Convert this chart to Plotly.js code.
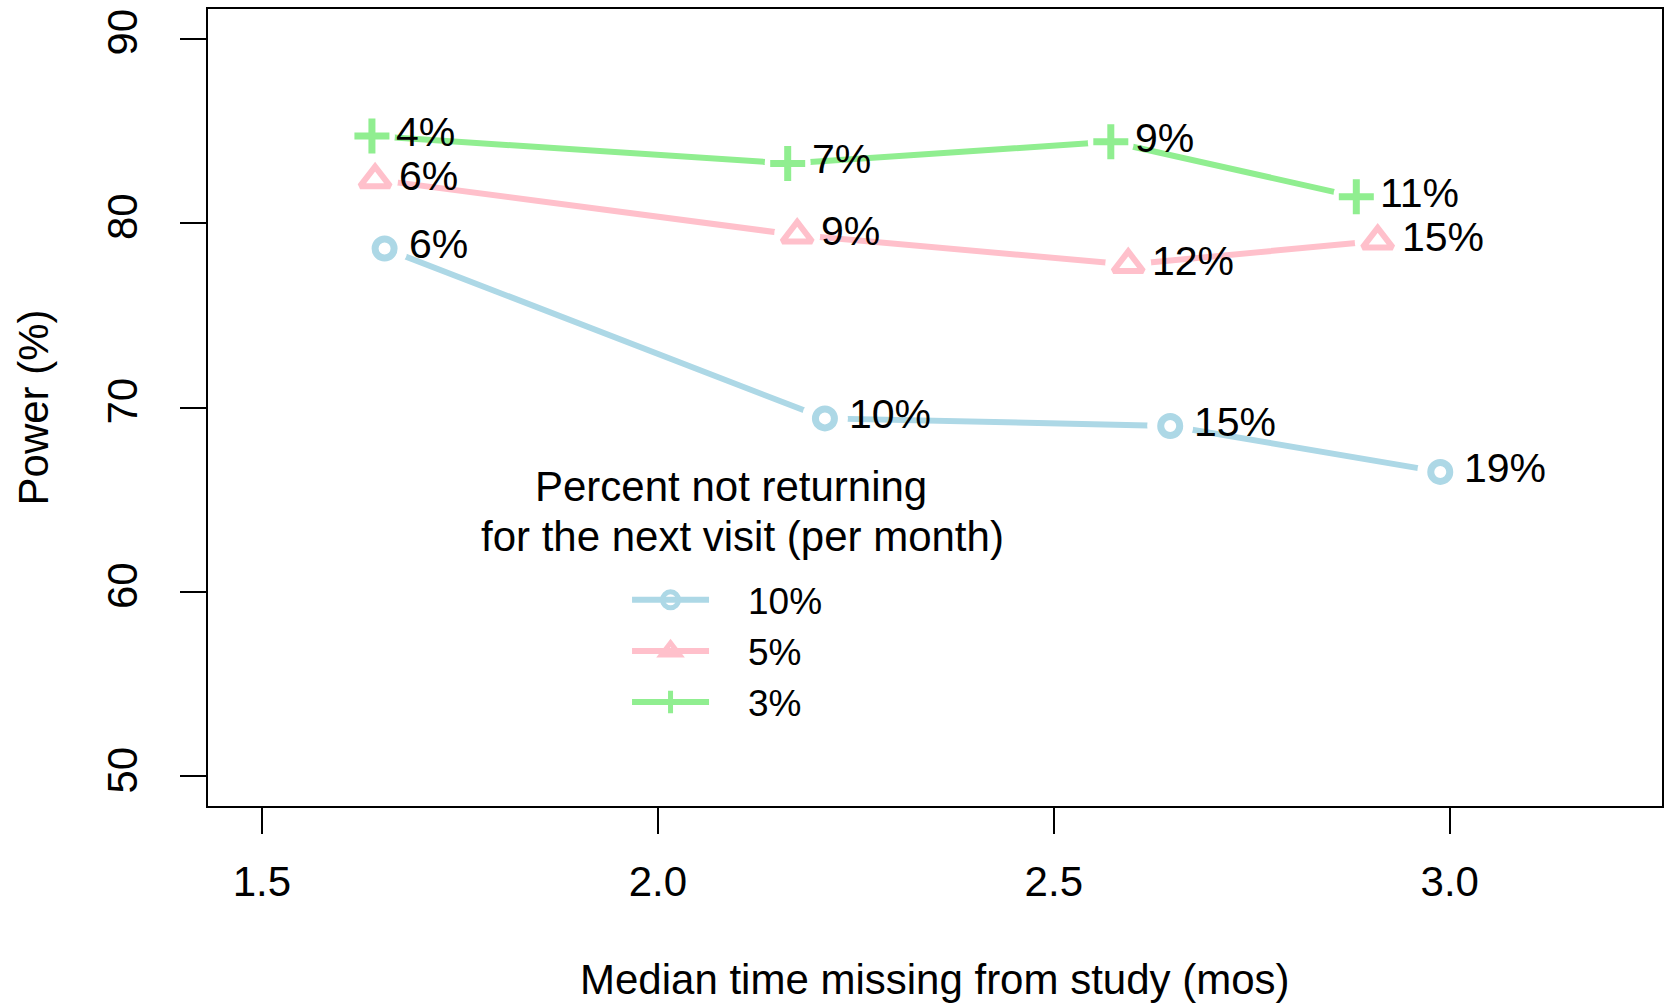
<!DOCTYPE html>
<html><head><meta charset="utf-8">
<script src="https://cdn.plot.ly/plotly-3.0.1.min.js"></script>
<style>html,body{margin:0;padding:0;background:#fff;} #chart{width:1664px;height:1007px;}</style>
</head><body><div id="chart"></div>
<script>
// ---- data ----
const seriesNames = ["10%", "5%", "3%"];
const seriesColors = ["#ADD8E6", "#FFC0CB", "#90EE90"];
const seriesSymbols = ["circle-open", "triangle-up-open", "cross-thin-open"];

const xBlue = [1.655, 2.211, 2.647, 2.988];
const yBlue = [78.62, 69.41, 69.00, 66.51];
const labBlue = ["6%", "10%", "15%", "19%"];

const xPink = [1.643, 2.176, 2.594, 2.909];
const yPink = [82.35, 79.35, 77.75, 79.03];
const labPink = ["6%", "9%", "12%", "15%"];

const xGreen = [1.639, 2.164, 2.572, 2.882];
const yGreen = [84.71, 83.23, 84.40, 81.42];
const labGreen = ["4%", "7%", "9%", "11%"];

const xTickVals = [1.5, 2.0, 2.5, 3.0];
const xTickText = ["1.5", "2.0", "2.5", "3.0"];
const yTickVals = [50, 60, 70, 80, 90];
const yTickText = ["50", "60", "70", "80", "90"];

const xTitle = "Median time missing from study (mos)";
const yTitle = "Power (%)";
const legendTitleLines = ["Percent not returning", "for the next visit (per month)"];

// ---- build ----
const FONT = "Liberation Sans, Arial, Helvetica, sans-serif";
const xs = [xBlue, xPink, xGreen];
const ys = [yBlue, yPink, yGreen];
const labs = [labBlue, labPink, labGreen];
const symSize = [19, 26, 25];
const symWidth = [7, 6, 7];
const PAD = "\u00a0\u00a0\u00a0\u200a";

const traces = [];
// lines (with markers for the legend sample; markers get covered below)
for (let i = 0; i < 3; i++) {
  traces.push({
    type: "scatter", mode: "lines+markers", x: xs[i], y: ys[i], name: PAD + seriesNames[i],
    line: {color: seriesColors[i], width: 6},
    marker: {symbol: seriesSymbols[i], size: symSize[i], color: seriesColors[i],
             line: {color: seriesColors[i], width: symWidth[i]}},
    hoverinfo: "skip", showlegend: true
  });
}
// white masks to leave the gaps of R's type="b"
for (let i = 0; i < 3; i++) {
  traces.push({
    type: "scatter", mode: "markers", x: xs[i], y: ys[i],
    marker: {symbol: "circle", size: 46, color: "#ffffff", line: {width: 0}},
    hoverinfo: "skip", showlegend: false
  });
}
// symbols on top
for (let i = 0; i < 3; i++) {
  traces.push({
    type: "scatter", mode: "markers", x: xs[i], y: ys[i],
    marker: {symbol: seriesSymbols[i], size: symSize[i], color: seriesColors[i],
             line: {color: seriesColors[i], width: symWidth[i]}},
    hoverinfo: "skip", showlegend: false
  });
}

const annotations = [];
for (let i = 0; i < 3; i++) {
  for (let j = 0; j < xs[i].length; j++) {
    annotations.push({
      x: xs[i][j], y: ys[i][j], xref: "x", yref: "y", text: labs[i][j],
      showarrow: false, xanchor: "left", yanchor: "middle", xshift: 22, yshift: 4,
      font: {family: FONT, size: 41, color: "#000"}
    });
  }
}
const titleX = [0.3594, 0.3674];
const titleY = [0.4013, 0.3385];
legendTitleLines.forEach((t, k) => {
  annotations.push({
    x: titleX[k], y: titleY[k], xref: "paper", yref: "paper", text: t,
    showarrow: false, xanchor: "center", yanchor: "middle",
    font: {family: FONT, size: 42, color: "#000"}
  });
});
// axis titles
annotations.push({
  x: 0.5, y: -0.2175, xref: "paper", yref: "paper", text: xTitle,
  showarrow: false, xanchor: "center", yanchor: "middle",
  font: {family: FONT, size: 42, color: "#000"}
});
annotations.push({
  x: -0.1197, y: 0.5, xref: "paper", yref: "paper", text: yTitle, textangle: -90,
  showarrow: false, xanchor: "center", yanchor: "middle",
  font: {family: FONT, size: 42, color: "#000"}
});

const layout = {
  width: 1664, height: 1007,
  margin: {l: 208, r: 2, t: 9, b: 201, pad: 0},
  paper_bgcolor: "#fff", plot_bgcolor: "#fff",
  font: {family: FONT, size: 42, color: "#000"},
  showlegend: true,
  legend: {x: 0.2882, y: 0.297, xanchor: "left", yanchor: "top",
           bgcolor: "rgba(0,0,0,0)", borderwidth: 0, itemwidth: 77,
           font: {family: FONT, size: 37, color: "#000"}, itemclick: false, itemdoubleclick: false},
  xaxis: {
    range: [1.432, 3.268], tickmode: "array", tickvals: xTickVals, ticktext: xTickText,
    ticks: "outside", ticklen: 26, tickwidth: 2, tickcolor: "#000",
    showline: true, linecolor: "#000", linewidth: 2, mirror: true,
    showgrid: false, zeroline: false, ticklabelstandoff: 12,
    tickfont: {family: FONT, size: 42, color: "#000"}
  },
  yaxis: {
    range: [48.4, 91.6], tickmode: "array", tickvals: yTickVals, ticktext: yTickText,
    ticks: "outside", ticklen: 26, tickwidth: 2, tickcolor: "#000", tickangle: -90,
    showline: true, linecolor: "#000", linewidth: 2, mirror: true,
    showgrid: false, zeroline: false, ticklabelstandoff: 26,
    tickfont: {family: FONT, size: 42, color: "#000"}
  },
  annotations: annotations
};

Plotly.newPlot("chart", traces, layout, {displayModeBar: false, staticPlot: true});
</script>
</body></html>
